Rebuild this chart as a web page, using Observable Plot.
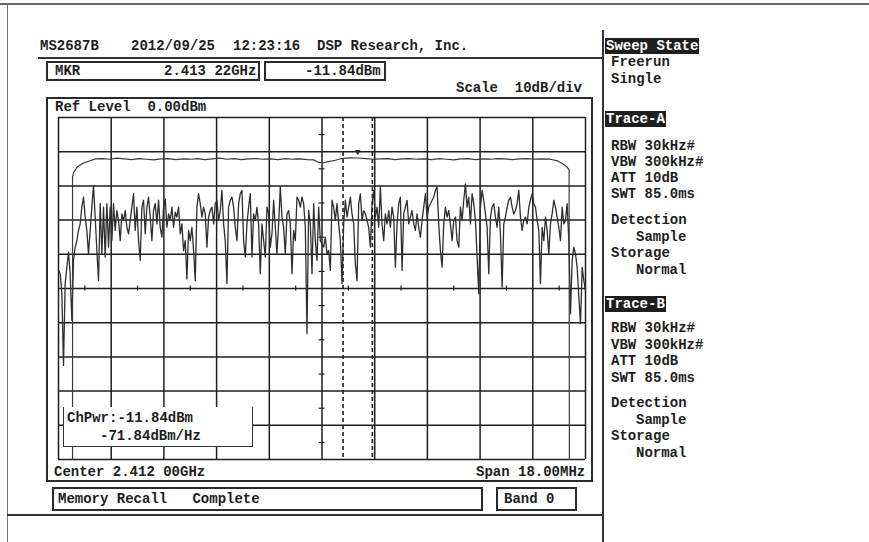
<!DOCTYPE html>
<html><head><meta charset="utf-8">
<script src="https://cdn.jsdelivr.net/npm/d3@7"></script>
<script src="https://cdn.jsdelivr.net/npm/@observablehq/plot@0.6"></script>
<style>
body{margin:0;background:#fff;}
#page{position:relative;width:869px;height:542px;overflow:hidden;font-family:"Liberation Mono","DejaVu Sans Mono",monospace;font-size:14px;font-weight:bold;color:#1e1e1e;background:#fff;}
.t{position:absolute;white-space:pre;line-height:16px;height:16px;}
.ln{position:absolute;background:#333;}
.box{position:absolute;border:2px solid #2a2a2a;box-sizing:border-box;}
.inv{background:#1e1e1e;color:#fff;padding:0 1px;}
#chart{position:absolute;left:46px;top:97px;}
#chpwr{position:absolute;left:63px;top:407px;width:190px;height:40px;background:#fff;border-left:1.5px solid #333;border-right:1.5px solid #333;border-bottom:1.5px solid #333;box-sizing:border-box;}
</style></head>
<body>
<div id="page">
  <div id="chart"></div>

  <!-- frame lines of the scanned sheet -->
  <div class="ln" style="left:0;top:3px;width:869px;height:2px;background:#666"></div>
  <div class="ln" style="left:7px;top:4px;width:1px;height:538px;background:#777"></div>
  <div class="ln" style="left:602px;top:30px;width:2px;height:512px"></div>
  <div class="ln" style="left:7px;top:514px;width:597px;height:2px"></div>
  <div class="ln" style="left:38px;top:57px;width:565px;height:1.5px"></div>

  <!-- header -->
  <div class="t" style="left:40px;top:38px">MS2687B</div>
  <div class="t" style="left:131px;top:38px">2012/09/25</div>
  <div class="t" style="left:233px;top:38px">12:23:16</div>
  <div class="t" style="left:317px;top:38px">DSP Research, Inc.</div>

  <div class="box" style="left:46px;top:61px;width:214px;height:20px"></div>
  <div class="t" style="left:55px;top:63px">MKR</div>
  <div class="t" style="left:164px;top:63px">2.413 22GHz</div>
  <div class="box" style="left:264px;top:61px;width:122px;height:20px"></div>
  <div class="t" style="left:305px;top:63px">-11.84dBm</div>
  <div class="t" style="left:456px;top:80px">Scale  10dB/div</div>

  <!-- plot frame -->
  <div class="box" style="left:46px;top:97px;width:547px;height:385px"></div>
  <div class="t" style="left:55px;top:99px">Ref Level  0.00dBm</div>
  <div class="t" style="left:54px;top:464px">Center 2.412 00GHz</div>
  <div class="t" style="left:476px;top:464px">Span 18.00MHz</div>

  <div id="chpwr">
    <div class="t" style="left:3px;top:3px">ChPwr:-11.84dBm</div>
    <div class="t" style="left:36px;top:21px">-71.84dBm/Hz</div>
  </div>

  <div class="box" style="left:52px;top:487px;width:431px;height:24px"></div>
  <div class="t" style="left:58px;top:491px">Memory Recall   Complete</div>
  <div class="box" style="left:496px;top:487px;width:81px;height:24px"></div>
  <div class="t" style="left:504px;top:491px">Band 0</div>

  <!-- right panel -->
  <div class="t inv" style="left:605px;top:38px">Sweep State</div>
  <div class="t" style="left:611px;top:54px">Freerun</div>
  <div class="t" style="left:611px;top:71px">Single</div>

  <div class="t inv" style="left:605px;top:111px">Trace-A</div>
  <div class="t" style="left:611px;top:138px">RBW 30kHz#</div>
  <div class="t" style="left:611px;top:154px">VBW 300kHz#</div>
  <div class="t" style="left:611px;top:170px">ATT 10dB</div>
  <div class="t" style="left:611px;top:186px">SWT 85.0ms</div>
  <div class="t" style="left:611px;top:212px">Detection</div>
  <div class="t" style="left:636px;top:229px">Sample</div>
  <div class="t" style="left:611px;top:245px">Storage</div>
  <div class="t" style="left:636px;top:262px">Normal</div>

  <div class="t inv" style="left:605px;top:296px">Trace-B</div>
  <div class="t" style="left:611px;top:320px">RBW 30kHz#</div>
  <div class="t" style="left:611px;top:337px">VBW 300kHz#</div>
  <div class="t" style="left:611px;top:353px">ATT 10dB</div>
  <div class="t" style="left:611px;top:370px">SWT 85.0ms</div>
  <div class="t" style="left:611px;top:395px">Detection</div>
  <div class="t" style="left:636px;top:412px">Sample</div>
  <div class="t" style="left:611px;top:428px">Storage</div>
  <div class="t" style="left:636px;top:445px">Normal</div>
</div>

<script>
// ---- sweep settings ----
const sweepStartMHz = 2403;
const sweepStopMHz = 2421;
const refLevel = 0;
const bottomLevel = -100;

// ---- grid (10 div x 10 div) ----
const gridFreqs = [2403, 2404.8, 2406.6, 2408.4, 2410.2, 2412, 2413.8, 2415.6, 2417.4, 2419.2, 2421];
const gridLevels = [0, -10, -20, -30, -40, -50, -60, -70, -80, -90, -100];
const minorFreqs = [2403.9, 2405.7, 2407.5, 2409.3, 2411.1, 2412.9, 2414.7, 2416.5, 2418.3, 2420.1];
const minorLevels = [-5, -15, -25, -35, -45, -55, -65, -75, -85, -95];

// ---- Trace B (sample detection, dBm) ----
const traceBLevel = [
 -44.7,-45.7,-51.1,-72.5,-48.6,-43.8,-39.4,-45.7,-59.3,-41.8,
 -37.9,-36.0,-33.0,-31.1,-26.2,-23.3,-29.1,-33.0,-39.9,-33.0,
 -26.2,-19.9,-29.1,-38.9,-47.7,-25.2,-39.9,-26.2,-40.8,-25.2,
 -37.9,-26.2,-36.0,-25.2,-33.0,-27.2,-30.1,-36.0,-28.2,-30.1,
 -27.2,-32.1,-34.0,-30.1,-26.2,-22.3,-33.0,-26.2,-36.0,-41.8,
 -26.2,-24.2,-34.0,-26.2,-23.3,-29.1,-36.0,-27.2,-25.2,-31.1,
 -24.2,-32.1,-35.0,-26.2,-23.8,-32.1,-28.2,-30.1,-26.2,-32.1,
 -27.7,-29.1,-26.2,-34.0,-31.1,-38.9,-36.0,-47.2,
 -33.0,-36.0,-32.1,-38.9,-47.7,-26.2,-22.3,-25.2,-29.1,-26.2,
 -28.2,-37.9,-29.1,-27.2,-26.2,-31.1,-25.2,-24.2,-30.1,-27.2,
 -21.3,-31.1,-36.0,-48.6,-26.2,-24.2,-23.3,-26.2,-32.1,-36.0,
 -25.2,-22.3,-21.3,-36.0,-40.8,-31.1,-26.2,-22.3,-40.8,-28.2,
 -30.1,-26.2,-31.1,-45.7,-31.1,-36.0,-40.8,-26.2,-28.2,-37.9,
 -34.0,-24.2,-32.1,-39.9,-31.1,-20.3,-29.1,-32.1,-39.9,-28.2,
 -27.2,-31.1,-45.7,-33.0,-36.0,-23.3,-24.2,-26.2,-23.3,-25.2,
 -32.1,-63.2,-27.2,-31.1,-45.7,-25.2,-36.0,-41.8,-26.2,-36.0,
 -36.9,-37.9,-35.0,-39.9,-38.9,-44.7,-24.2,-26.2,-30.1,-25.2,
 -31.1,-36.0,-48.6,-31.1,-24.2,-29.1,-26.2,-23.3,-28.2,-31.1,
 -42.8,-47.7,-25.2,-22.3,-30.1,-27.2,-28.2,-30.1,-32.1,-37.9,
 -25.2,-21.3,-29.1,-26.2,-32.1,-20.3,-31.1,-36.0,-28.2,-31.1,
 -27.2,-32.1,-26.2,-29.1,-43.8,-31.1,-25.2,-23.3,-44.7,-28.2,
 -26.2,-24.2,-31.1,-29.1,-27.2,-31.1,-33.0,-28.2,-32.1,-35.0,
 -30.1,-26.2,-22.3,-29.1,-26.2,-25.2,-24.2,-23.3,-21.3,-20.3,
 -31.1,-38.9,-43.8,-31.1,-26.2,-29.1,-27.2,-31.1,-36.0,-30.1,
 -29.1,-36.0,-37.9,-26.2,-30.1,-24.2,-19.4,-26.2,-23.3,-31.1,
 -22.3,-25.2,-30.1,-40.8,-51.6,-26.2,-21.3,-24.2,-28.2,-32.1,
 -45.7,-29.1,-26.2,-25.2,-29.1,-32.1,-26.2,-34.0,-49.6,-31.1,
 -29.1,-26.2,-24.2,-23.3,-26.2,-28.2,-27.2,-25.2,-21.3,-29.1,
 -33.0,-30.1,-29.1,-31.1,-26.2,-24.2,-22.3,-25.2,-26.2,-30.1,
 -33.0,-48.6,-32.1,-36.0,-29.1,-33.0,-39.9,-31.1,-28.2,-24.2,
 -26.2,-29.1,-32.1,-36.0,-26.2,-31.1,-30.1,-25.2,-36.0,-57.4,
 -41.8,-37.9,-39.9,-43.8,-52.5,-60.3,-43.8,-47.7,-50.6
];

// ---- Trace A (upper trace with channel edges) ----
const traceAFreq = [
 2403.48,2403.48,2403.52,2403.64,2403.81,2404.03,2404.26,
 2404.5,2404.75,2405,2405.25,2405.5,2405.75,2406,2406.25,2406.5,2406.75,
 2407,2407.25,2407.5,2407.75,2408,2408.25,2408.5,2408.75,2409,2409.25,
 2409.5,2409.75,2410,2410.25,2410.5,2410.75,2411,2411.25,2411.5,
 2411.71,2411.88,2412.02,2412.22,2412.46,2412.67,2412.95,2413.22,
 2413.5,2413.75,2414,2414.25,2414.5,2414.75,2415,2415.25,2415.5,2415.75,
 2416,2416.25,2416.5,2416.75,2417,2417.25,2417.5,2417.75,2418,2418.25,
 2418.5,2418.75,2419,2419.25,2419.5,
 2419.8,2420.05,2420.22,2420.37,2420.44,2420.45
];
const traceALevel = [
 -100,-17.4,-16.0,-14.5,-13.5,-12.8,-12.1,
 -12.0,-12.2,-11.9,-12.1,-12.3,-12.0,-12.2,-12.4,-12.1,-12.0,
 -12.3,-12.1,-12.2,-12.0,-12.3,-12.1,-11.9,-12.2,-12.0,-12.3,
 -12.1,-12.0,-12.2,-12.1,-12.3,-12.0,-12.2,-12.1,-12.3,
 -12.4,-13.1,-13.3,-12.9,-12.5,-12.0,-11.8,-11.84,
 -12.0,-12.2,-12.1,-12.0,-12.3,-12.1,-12.0,-12.2,-12.1,-12.3,
 -12.0,-12.2,-12.4,-12.1,-12.0,-12.3,-12.1,-12.2,-12.0,-12.1,
 -12.3,-12.1,-12.0,-12.2,-12.1,
 -12.2,-12.7,-13.5,-14.5,-15.3,-100
];

// ---- marker ----
const markerFreq = [2413.22];
const markerLevel = [-11.84];
const markerZone = [2412.72, 2413.72];

const stepMHz = (sweepStopMHz - sweepStartMHz) / (traceBLevel.length - 1);
const traceB = traceBLevel.map((v, i) => ({f: sweepStartMHz + i * stepMHz, dbm: v}));
const traceA = traceAFreq.map((f, i) => ({f, dbm: traceALevel[i]}));
const marker = markerFreq.map((f, i) => ({f, dbm: markerLevel[i]}));

const gridColor = "#1e1e1e";
const chart = Plot.plot({
  width: 547, height: 385,
  marginLeft: 12, marginRight: 8, marginTop: 20, marginBottom: 23,
  style: {background: "transparent", fontFamily: "Liberation Mono, monospace"},
  x: {domain: [sweepStartMHz, sweepStopMHz], axis: null},
  y: {domain: [bottomLevel, refLevel], axis: null},
  marks: [
    Plot.ruleX(gridFreqs, {stroke: gridColor, strokeWidth: 1.5}),
    Plot.ruleY(gridLevels, {stroke: gridColor, strokeWidth: 1.5}),
    Plot.ruleX(minorFreqs, {y1: -49.3, y2: -50.7, stroke: gridColor, strokeWidth: 1.2}),
    Plot.ruleY(minorLevels, {x1: 2411.9, x2: 2412.1, stroke: gridColor, strokeWidth: 1.2}),
    Plot.ruleX(markerZone, {stroke: "#222", strokeWidth: 1.6, strokeDasharray: "4,3"}),
    Plot.line(traceB, {x: "f", y: "dbm", stroke: "#2e2e2e", strokeWidth: 1.3}),
    Plot.line(traceA, {x: "f", y: "dbm", stroke: "#3b3b3b", strokeWidth: 1.2}),
    Plot.text(marker, {x: "f", y: "dbm", text: () => "\u25BC", dy: -6, fontSize: 9, fill: "#222"})
  ]
});
document.getElementById("chart").appendChild(chart);
</script>
</body></html>
